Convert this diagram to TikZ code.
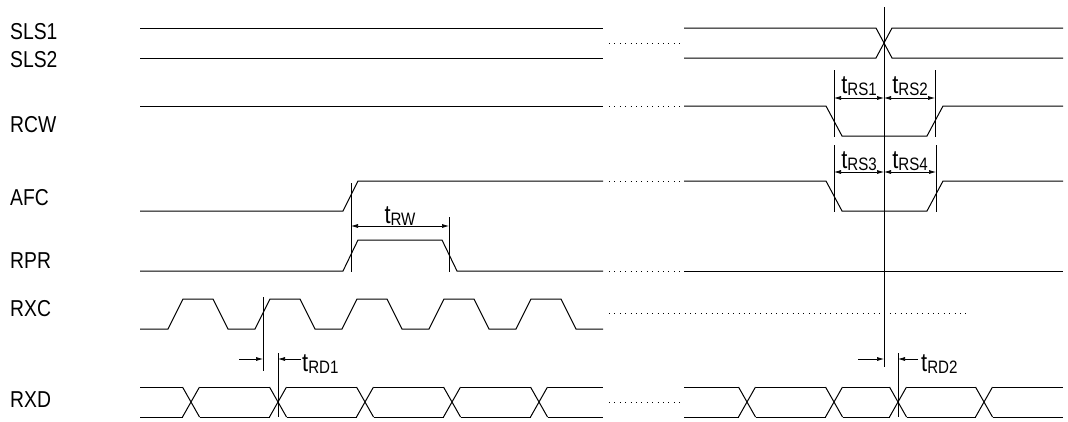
\documentclass[tikz,border=0pt]{standalone}
\usepackage{fontspec}
\setmainfont{Liberation Sans}[FakeStretch=0.84]
\usetikzlibrary{arrows.meta}
\newcommand{\tname}[1]{{\fontsize{26}{26}\selectfont t}\raisebox{-2pt}{\fontsize{18}{18}\selectfont #1}}
\begin{document}
\begin{tikzpicture}[x=1pt,y=-1pt]
\tikzstyle{sig} = [line width=1pt]
\tikzstyle{dim} = [line width=0.7pt]
\tikzstyle{onearrow} = [dim, -{Latex[length=7pt,width=4pt]}]
\tikzstyle{twoarrow} = [dim, {Latex[length=7pt,width=4pt]}-{Latex[length=7pt,width=4pt]}]
\tikzstyle{dotgap} = [line width=1pt, dash pattern=on 1pt off 4.4pt]
\tikzstyle{signame} = [anchor=base west, inner sep=0, font=\fontsize{23}{23}\selectfont]
\tikzstyle{tlabel} = [anchor=base, inner sep=0]
\useasboundingbox (0,0) rectangle (1068,421);

\node [signame] (sls1) at (10,39) {SLS1};
\node [signame] (sls2) at (10,67) {SLS2};
\node [signame] (rcw) at (10,132) {RCW};
\node [signame] (afc) at (10,205) {AFC};
\node [signame] (rpr) at (10,268) {RPR};
\node [signame] (rxc) at (10,316) {RXC};
\node [signame] (rxd) at (10,407) {RXD};

    \draw [sig] (140,28) -- (603,28);
    \draw [sig] (140,58) -- (603,58);
    \draw [dotgap] (609,43) -- (680,43);
    \draw [sig] (684,28) -- (876,28) -- (892,58) -- (1063,58);
    \draw [sig] (684,58) -- (876,58) -- (892,28) -- (1063,28);

    \draw [sig] (140,106) -- (603,106);
    \draw [dotgap] (609,106) -- (680,106);
    \draw [sig] (684,106) -- (826,106) -- (842,136) -- (927,136) -- (943,106) -- (1063,106);

    \draw [sig] (140,211) -- (343,211) -- (358,181) -- (603,181);
    \draw [dotgap] (609,181) -- (680,181);
    \draw [sig] (684,181) -- (826,181) -- (842,211) -- (927,211) -- (943,181) -- (1063,181);

    \draw [sig] (140,271) -- (343,271) -- (358,240) -- (442,240) -- (457,271) -- (603,271);
    \draw [dotgap] (609,271) -- (680,271);
    \draw [sig] (684,271) -- (1063,271);

    \draw [sig] (140,329) foreach \k in {0,...,4}
    	{ -- ({168+87*\k},329) -- ({183+87*\k},299) -- ({213+87*\k},299) -- ({228+87*\k},329) } -- (603,329);
    \draw [dotgap] (609,313) -- (967,313);

    \foreach \a/\b in {140/182.5,199.5/269.5,286.5/356.5,373.5/443.5,460.5/530.5,547.5/603,
    		684/738.5,755.5/825.5,842.5/889.5,906.5/975.5,992.5/1063}
    {
    	\draw [sig] (\a,387) -- (\b,387);
    	\draw [sig] (\a,417) -- (\b,417);
    }
    \foreach \c in {191,278,365,452,539,747,834,898,984}
    {
    	\draw [sig] (\c-8.5,387) -- (\c+8.5,417);
    	\draw [sig] (\c-8.5,417) -- (\c+8.5,387);
    }
    \draw [dotgap] (609,402) -- (680,402);

\coordinate (rs1top) at (834,70);
\coordinate (rs1bot) at (834,137);
\coordinate (rs2top) at (935,70);
\coordinate (rs2bot) at (935,137);
\coordinate (rs3top) at (834,145);
\coordinate (rs3bot) at (834,212);
\coordinate (rs4top) at (936,145);
\coordinate (rs4bot) at (936,212);
\coordinate (mtop) at (884,7);
\coordinate (mbot) at (884,367);
\draw [dim] (rs1top) -- (rs1bot);
\draw [dim] (rs2top) -- (rs2bot);
\draw [dim] (rs3top) -- (rs3bot);
\draw [dim] (rs4top) -- (rs4bot);
\draw [dim] (mtop) -- (mbot);
\coordinate (a1) at (834,98);
\coordinate (a2) at (884,98);
\coordinate (a3) at (935,98);
\coordinate (b1) at (834,172);
\coordinate (b2) at (884,172);
\coordinate (b3) at (936,172);
\draw [twoarrow] (a1) -- (a2);
\draw [twoarrow] (a2) -- (a3);
\draw [twoarrow] (b1) -- (b2);
\draw [twoarrow] (b2) -- (b3);
\node [tlabel] (trs1) at (859,93) {\tname{RS1}};
\node [tlabel] (trs2) at (910,93) {\tname{RS2}};
\node [tlabel] (trs3) at (859,168) {\tname{RS3}};
\node [tlabel] (trs4) at (910,168) {\tname{RS4}};

\coordinate (rw1top) at (351,183);
\coordinate (rw1bot) at (351,272);
\coordinate (rw2top) at (449,217);
\coordinate (rw2bot) at (449,272);
\draw [dim] (rw1top) -- (rw1bot);
\draw [dim] (rw2top) -- (rw2bot);
\coordinate (w1) at (351,226);
\coordinate (w2) at (449,226);
\draw [twoarrow] (w1) -- (w2);
\node [tlabel] (trw) at (400,223) {\tname{RW}};

\coordinate (rd1top) at (263,297);
\coordinate (rd1bot) at (263,371);
\coordinate (rd1xtop) at (278,353);
\coordinate (rd1xbot) at (278,417);
\draw [dim] (rd1top) -- (rd1bot);
\draw [dim] (rd1xtop) -- (rd1xbot);
\draw [onearrow] (239,359) -- (263,359);
\draw [onearrow] (301,359) -- (278,359);
\node [tlabel, anchor=base west] (trd1) at (302,371) {\tname{RD1}};

\coordinate (rd2xtop) at (898,353);
\coordinate (rd2xbot) at (898,417);
\draw [dim] (rd2xtop) -- (rd2xbot);
\draw [onearrow] (858,359) -- (884,359);
\draw [onearrow] (918,359) -- (898,359);
\node [tlabel, anchor=base west] (trd2) at (921,371) {\tname{RD2}};
\end{tikzpicture}
\end{document}
